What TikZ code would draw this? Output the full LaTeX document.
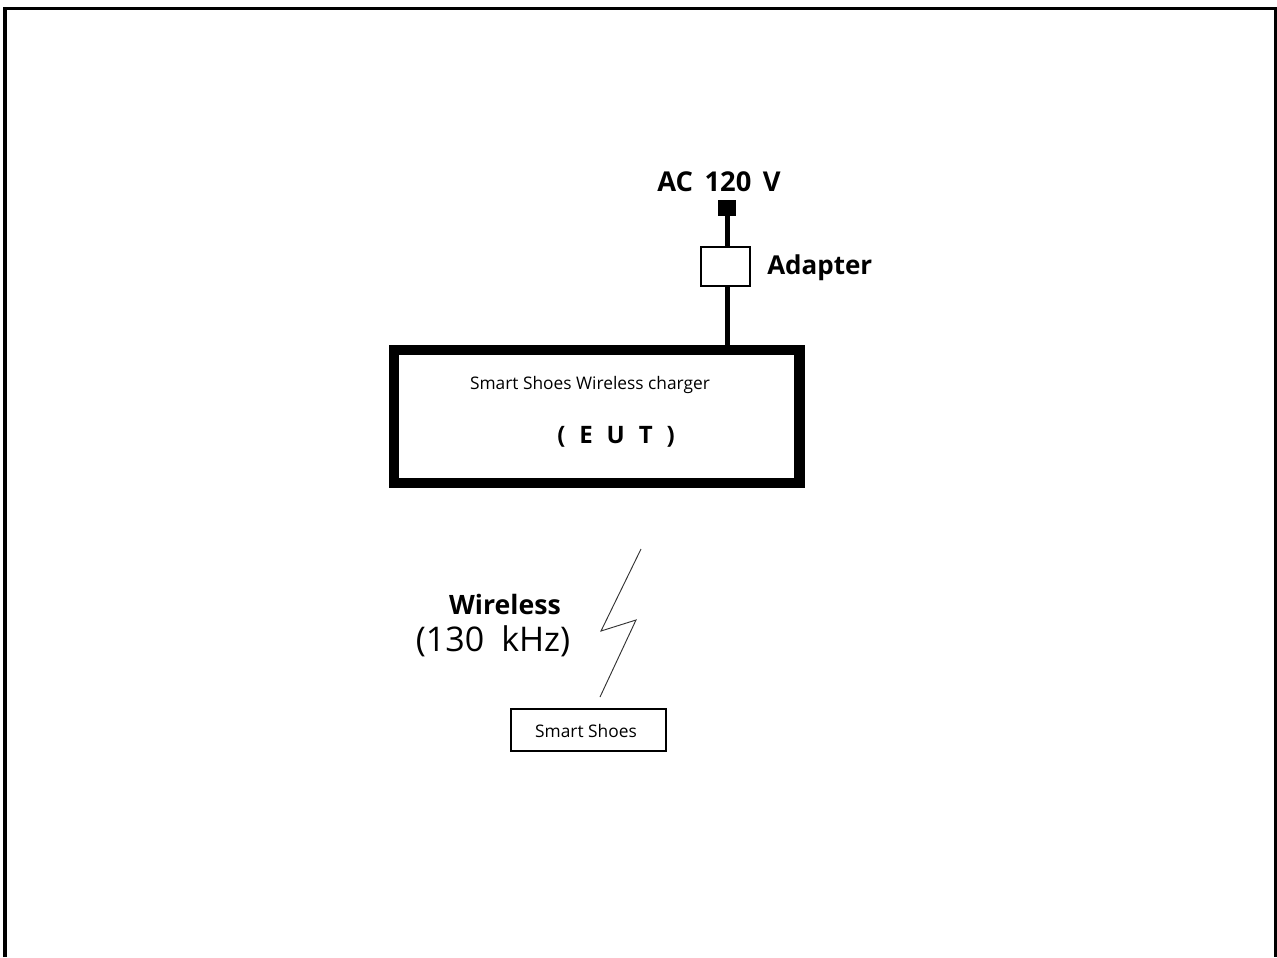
\documentclass[tikz,border=0pt]{standalone}
\usepackage{fontspec}
\setmainfont{Open Sans}
\usetikzlibrary{positioning}

\begin{document}
\begin{tikzpicture}[
    x=0.75pt,
    y=-0.75pt,
    boxline/.style={draw=black, line width=1.5pt, inner sep=0pt},
    cable/.style={line width=3.75pt, draw=black},
    bigbold/.style={font=\fontsize{19.5pt}{22pt}\selectfont\bfseries, inner sep=0pt},
    smalltext/.style={font=\fontsize{13pt}{15pt}\selectfont, inner sep=0pt}
]

\useasboundingbox (0,0) rectangle (1277,957);

% 1. Outer frame (open at the bottom)
\draw[line width=2.6pt] (5,957) -- (5,8.5) -- (1275.5,8.5) -- (1275.5,957);

% 2. Mains plug and adapter
\node[fill=black, minimum width=13.5pt, minimum height=12pt, inner sep=0pt] (plug) at (727,208) {};
\node[bigbold, font=\fontsize{20.5pt}{22pt}\selectfont\bfseries] (mains) at (719,182)
    {\spaceskip=0.42em AC 120 V};
\node[boxline, minimum width=36.75pt, minimum height=29.25pt] (adapter) at (725.5,266.5) {};
\node[bigbold, anchor=west] (adapterlbl) at (767,268) {Adapter};

% 3. Equipment under test
\node[draw=black, line width=7.9pt, minimum width=304pt, minimum height=100pt, inner sep=0pt] (eut) at (596.75,416.5) {};
\node[smalltext] (eutname) at (590,385) {Smart Shoes Wireless charger};
\node[font=\fontsize{18pt}{20pt}\selectfont\bfseries, inner sep=0pt] (euttag) at (616,437)
    {\spaceskip=0.58em ( E U T )};

% 4. Cables
\draw[cable] (plug.south) -- (plug.south |- adapter.north);
\draw[cable] (adapter.south -| plug) -- (plug |- eut.north);

% 5. Wireless link
\coordinate (z1) at (641,549);
\coordinate (z2) at (601,631);
\coordinate (z3) at (636,620);
\coordinate (z4) at (600,697);
\draw[line width=0.7pt, black!80] (z1) -- (z2) -- (z3) -- (z4);
\node[bigbold, font=\fontsize{20pt}{22pt}\selectfont\bfseries] (wlbl) at (505,604) {Wireless};
\node[font=\fontsize{25.5pt}{28pt}\selectfont, inner sep=0pt] (freq) at (493,641)
    {\spaceskip=0.5em (130 kHz)};

% 6. Smart shoes
\node[boxline, minimum width=116.25pt, minimum height=31.5pt] (shoes) at (588.5,730) {};
\node[smalltext] (shoeslbl) at (586,731) {Smart Shoes};

\end{tikzpicture}
\end{document}
